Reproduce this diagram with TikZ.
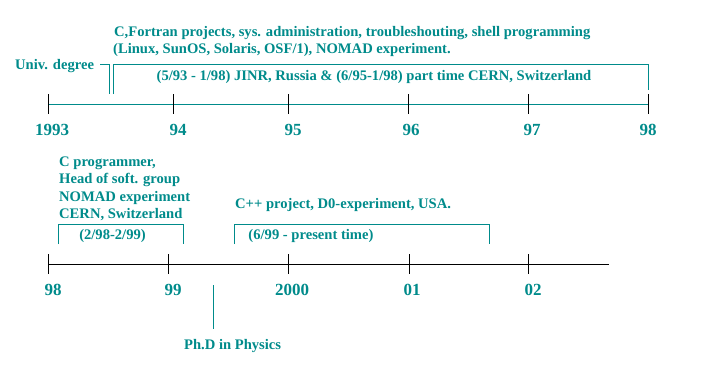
\documentclass[tikz,border=0pt]{standalone}
\usepackage{fontspec}
\setmainfont{Liberation Serif}
\definecolor{tl}{RGB}{0,139,139}
\begin{document}
\begin{tikzpicture}[x=1pt,y=-1pt,
  txt/.style={inner sep=0pt,text=tl,font=\fontsize{14.6}{17.5}\selectfont\bfseries},
  yr/.style={inner sep=0pt,text=tl,font=\fontsize{17}{20}\selectfont\bfseries,anchor=base},
  brk/.style={draw=tl,line width=1pt},
  tick/.style={draw=black,line width=1pt}]
\useasboundingbox (0,0) rectangle (704,367);
% top axis
\coordinate (a0) at (48,104);
\coordinate (a1) at (648,104);
\draw[tl,line width=1pt] (a0) -- (a1);
\foreach \x/\l/\c in {48/1993/52, 173/94/178, 288/95/293, 408/96/411, 528/97/532, 648/98/648}{
  \draw[tick] (\x,94) -- (\x,114);
  \node[yr] (t\l) at (\c,135) {\l};
}
% bottom axis
\coordinate (b0) at (48,264);
\coordinate (b1) at (609,264);
\draw[black,line width=1pt] (b0) -- (b1);
\foreach \x/\l/\c in {48/98/53, 168/99/173, 288/2000/292, 409/01/412, 528/02/533}{
  \draw[tick] (\x,254) -- (\x,274);
  \node[yr] (u\l) at (\c,295) {\l};
}
% top texts
\node[txt,anchor=base west] (ftn) at (114,36) {C,Fortran projects, sys. administration, troubleshouting, shell programming};
\node[txt,anchor=base west] (lnx) at (113,53.5) {(Linux, SunOS, Solaris, OSF/1), NOMAD experiment.};
\node[txt,anchor=base west] (univ) at (15,69.5) {Univ. degree};
\node[txt,anchor=base] (jinr) at (374,80) {(5/93 - 1/98) JINR, Russia \& (6/95-1/98) part time CERN, Switzerland};
\coordinate (u1) at (100,64); \coordinate (u2) at (109,64); \coordinate (u3) at (109,94);
\draw[brk] (u1) -- (u2) -- (u3);
\coordinate (j1) at (113,94); \coordinate (j2) at (113,64); \coordinate (j3) at (648,64); \coordinate (j4) at (648,90);
\draw[brk] (j1) -- (j2) -- (j3) -- (j4);
% bottom texts
\node[txt,anchor=base west] (cprog1) at (59,166) {C programmer,};
\node[txt,anchor=base west] (cprog2) at (59,183.5) {Head of soft. group};
\node[txt,anchor=base west] (cprog3) at (59,201) {NOMAD experiment};
\node[txt,anchor=base west] (cprog4) at (59,218.5) {CERN, Switzerland};
\node[txt,anchor=base west] (cpp) at (235,208) {C++ project, D0-experiment, USA.};
\node[txt,anchor=base] (d1) at (112.5,239.5) {(2/98-2/99)};
\node[txt,anchor=base] (d2) at (311,239.5) {(6/99 - present time)};
\coordinate (p1) at (58,244); \coordinate (p2) at (58,224); \coordinate (p3) at (183,224); \coordinate (p4) at (183,244);
\draw[brk] (p1) -- (p2) -- (p3) -- (p4);
\coordinate (q1) at (234,244); \coordinate (q2) at (234,224); \coordinate (q3) at (489,224); \coordinate (q4) at (489,244);
\draw[brk] (q1) -- (q2) -- (q3) -- (q4);
\coordinate (ph1) at (213,285); \coordinate (ph2) at (213,329);
\draw[brk] (ph1) -- (ph2);
\node[txt,anchor=base west] (phd) at (184,349.5) {Ph.D in Physics};
\end{tikzpicture}
\end{document}
